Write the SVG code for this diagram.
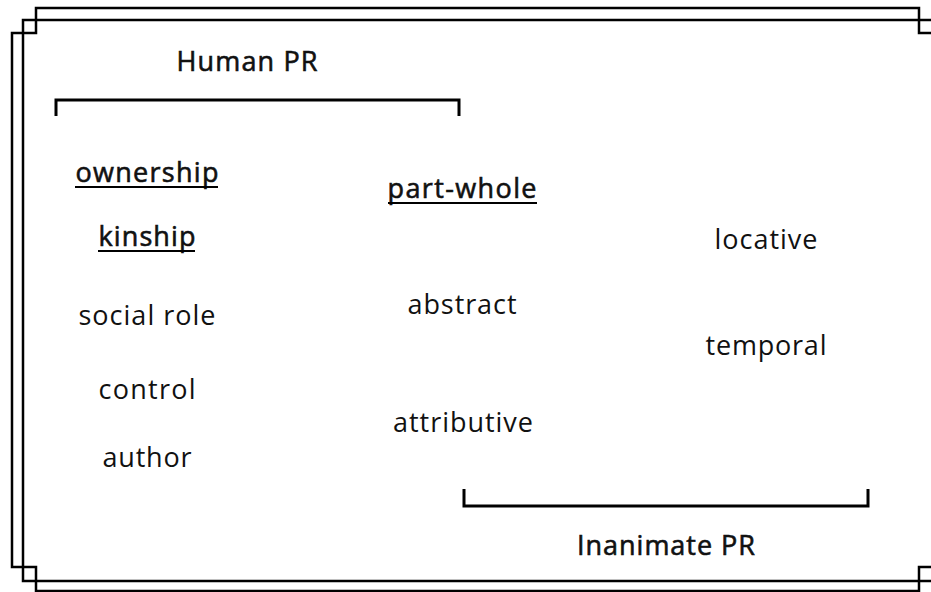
<svg xmlns="http://www.w3.org/2000/svg" width="931" height="592" viewBox="0 0 931 592">
<style>
.frame{fill:none;stroke:#000;stroke-width:2.5}
.brk{fill:none;stroke:#000;stroke-width:3}
.ul{stroke:#000;stroke-width:2.2}
text{font-family:"Open Sans","Liberation Sans",sans-serif;font-size:27px;fill:#111;text-anchor:middle}
.hd{font-weight:400;stroke:#111;stroke-width:0.6}
</style>
<rect width="931" height="592" fill="#fff"/>
<g id="frame">
<path class="frame" d="M950,33 H919 V8 H36 V33 H12 V567 H36 V591 H919 V567 H950"/>
<path class="frame" d="M950,20 H23 V581 H950"/>
</g>
<g id="connectors">
<path id="human-bracket" class="brk" d="M56,116 V100 H459 V116"/>
<path id="inanimate-bracket" class="brk" d="M464,489 V506 H868 V489"/>
</g>
<g id="human-pr"><text class="hd" x="247" y="71" font-size="25" textLength="141">Human PR</text></g>
<g id="inanimate-pr"><text class="hd" x="666" y="555" font-size="25" textLength="178">Inanimate PR</text></g>
<g id="ownership"><text class="hd" x="147" y="182" textLength="143">ownership</text><line class="ul" x1="75" y1="187" x2="218" y2="187"/></g>
<g id="kinship"><text class="hd" x="147" y="246" textLength="97">kinship</text><line class="ul" x1="98" y1="251" x2="195" y2="251"/></g>
<g id="part-whole"><text class="hd" x="462" y="198" textLength="149">part-whole</text><line class="ul" x1="388" y1="203" x2="537" y2="203"/></g>
<g id="social-role"><text x="147" y="325" textLength="137">social role</text></g>
<g id="control"><text x="147" y="399" textLength="97">control</text></g>
<g id="author"><text x="147" y="467" textLength="89">author</text></g>
<g id="abstract"><text x="462" y="314" textLength="109">abstract</text></g>
<g id="attributive"><text x="463" y="432" textLength="140">attributive</text></g>
<g id="locative"><text x="766" y="249" textLength="103">locative</text></g>
<g id="temporal"><text x="766" y="355" textLength="121">temporal</text></g>
</svg>
